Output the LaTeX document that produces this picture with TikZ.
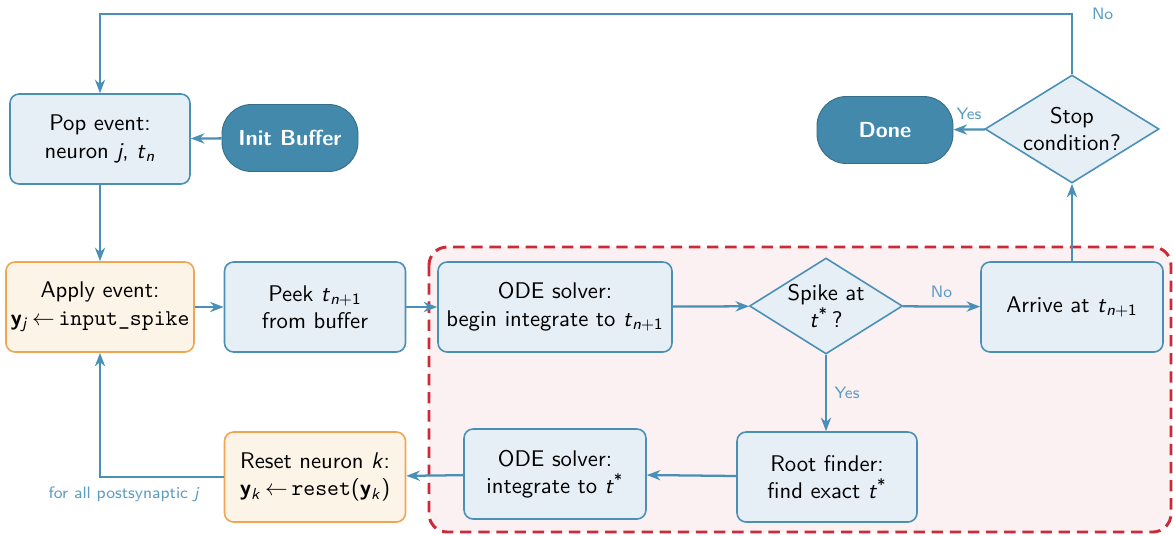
\documentclass[tikz,border=0pt]{standalone}
\usepackage{xcolor}
\usepackage{tikz}
\usetikzlibrary{positioning, arrows.meta, calc, shapes.geometric}
\definecolor{flowblue}{HTML}{4A8FB6}
\definecolor{darkblue}{HTML}{4389AB}
\definecolor{procfill}{HTML}{E6EFF6}
\definecolor{eventedge}{HTML}{F0A552}
\definecolor{eventfill}{HTML}{FDF4E8}
\definecolor{regionred}{HTML}{CC2A36}
\definecolor{regionfill}{HTML}{FBF0F2}
\definecolor{labelblue}{HTML}{5B9CC2}
\newcommand{\pxu}{0.0155cm}
% sans italic variables, set as text
\newcommand{\var}[1]{\textit{#1}}
\newcommand{\tsub}[2]{\var{#1}\textsubscript{#2}}
\newcommand{\ysub}[1]{\textbf{y}\textsubscript{\var{#1}}}
\newcommand{\tstar}{\var{t}\textsuperscript{*}}

\tikzset{
  proc/.style={draw=flowblue, fill=procfill, rounded corners=4pt, line width=0.7pt,
    align=center, minimum height=90*\pxu, inner sep=2pt},
  event/.style={proc, draw=eventedge, fill=eventfill},
  term/.style={fill=darkblue, draw=darkblue!80!black, rounded corners=13pt,
    text=white, font=\sffamily\bfseries\fontsize{9.6}{11}\selectfont,
    minimum width=136*\pxu, minimum height=67*\pxu},
  decide/.style={diamond, aspect=1.6, draw=flowblue, fill=procfill, line width=0.7pt,
    align=center, inner sep=-3pt},
  flow/.style={draw=flowblue, line width=1pt, -{Stealth[length=6pt, width=4.5pt]}},
  flowlabel/.style={text=labelblue, font=\sffamily\fontsize{7.3}{9}\selectfont}
}

\begin{document}
\begin{tikzpicture}[x=\pxu, y=-\pxu, font=\sffamily]
  \useasboundingbox (0,0) rectangle (1173,534);

  % event-detection region
  \draw[regionred, fill=regionfill, line width=1.3pt, dash pattern=on 5pt off 3pt,
        rounded corners=8pt] (429,247) rectangle (1171,532);

  % top row
  \node[proc, minimum width=180*\pxu] (pop) at (100,139) {Pop event:\\ neuron \var{j}, \tsub{t}{\var{n}}};
  \node[term] (init) at (290,138) {Init Buffer};
  \node[term] (done) at (885,130) {Done};
  \node[decide, minimum width=174*\pxu, minimum height=108*\pxu] (stop) at (1072,129) {Stop\\ condition?};

  % middle row
  \node[event, minimum width=185*\pxu] (apply) at (100,307)
    {Apply event:\\ \ysub{j}\,$\leftarrow$\,\texttt{input\_spike}};
  \node[proc, minimum width=181*\pxu] (peek) at (315,307) {Peek \tsub{t}{\var{n}+1}\\ from buffer};
  \node[proc, minimum width=234*\pxu] (odebegin) at (555,307) {ODE solver:\\ begin integrate to \tsub{t}{\var{n}+1}};
  \node[decide, minimum width=153*\pxu, minimum height=96*\pxu] (spike) at (826,306) {Spike at\\ \tstar\,?};
  \node[proc, minimum width=182*\pxu] (arrive) at (1072,307) {Arrive at \tsub{t}{\var{n}+1}};

  % bottom row
  \node[proc, minimum width=180*\pxu] (root) at (827,477) {Root finder:\\ find exact \tstar};
  \node[proc, minimum width=182*\pxu] (odeint) at (555,474) {ODE solver:\\ integrate to \tstar};
  \node[event, minimum width=181*\pxu] (reset) at (315,477)
    {Reset neuron \var{k}:\\ \ysub{k}\,$\leftarrow$\,\texttt{reset}(\ysub{k})};

  % connectors
  \coordinate (loopr) at (1072,14);
  \draw[flow] (stop.north) -- (loopr) -| (pop.north);
  \node[flowlabel, anchor=west] at (1084,14) {No};
  \draw[flow] (init) -- (pop);
  \draw[flow] (pop) -- (apply);
  \draw[flow] (apply) -- (peek);
  \draw[flow] (peek) -- (odebegin);
  \draw[flow] (odebegin) -- (spike);
  \draw[flow] (spike) -- node[flowlabel, above] {No} (arrive);
  \draw[flow] (arrive) -- (stop);
  \draw[flow] (stop) -- (done);
  \node[flowlabel] at (969,114) {Yes};
  \draw[flow] (spike) -- node[flowlabel, right, pos=0.5] {Yes} (spike.south |- root.north);
  \draw[flow] (root) -- (odeint);
  \draw[flow] (odeint) -- (reset);
  \draw[flow] (reset.west) -| (apply.south);
  \node[flowlabel] at (124,494) {for all postsynaptic \var{j}};
\end{tikzpicture}
\end{document}
